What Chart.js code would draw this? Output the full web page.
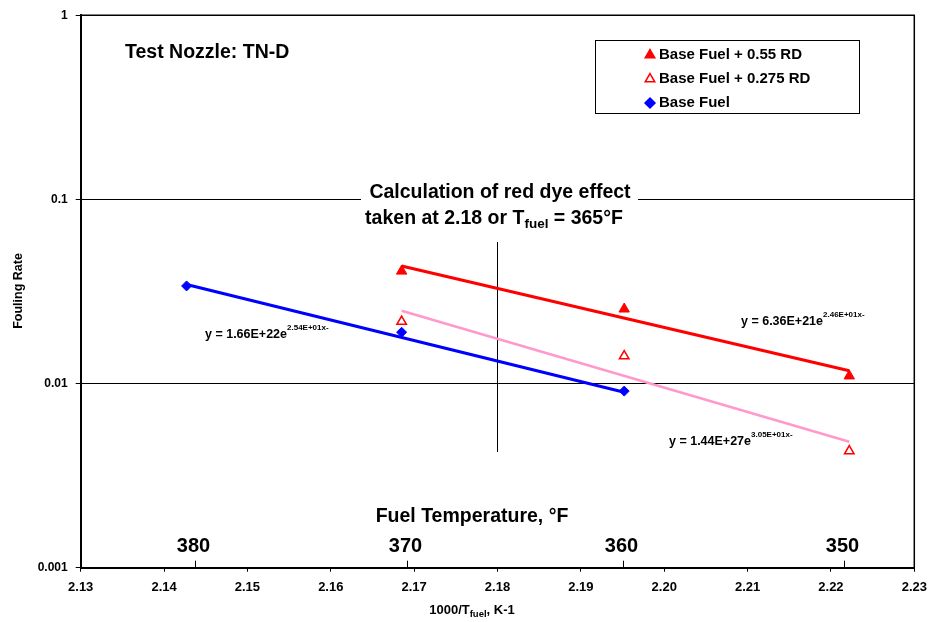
<!DOCTYPE html>
<html>
<head>
<meta charset="utf-8">
<script src="https://cdn.jsdelivr.net/npm/chart.js@4.4.1/dist/chart.umd.min.js"></script>
<style>
html,body{margin:0;padding:0;background:#fff;}
#wrap{width:929px;height:622px;}
</style>
</head>
<body>
<div id="wrap"><canvas id="c" width="929" height="622"></canvas></div>
<script>
// ---- data ----
const xTickValues = [2.13, 2.14, 2.15, 2.16, 2.17, 2.18, 2.19, 2.20, 2.21, 2.22, 2.23];
const yTickValues = [0.001, 0.01, 0.1, 1];
const yTickLabels = ['0.001', '0.01', '0.1', '1'];

const baseFuelX = [2.1427, 2.1685, 2.1952];
const baseFuelY = [0.0339, 0.0190, 0.0091];
const rd055X = [2.1685, 2.1952, 2.2222];
const rd055Y = [0.0408, 0.0254, 0.0110];
const rd0275X = [2.1685, 2.1952, 2.2222];
const rd0275Y = [0.0217, 0.0141, 0.0043];

const baseTrendX = [2.1427, 2.1952];
const baseTrendY = [0.0345, 0.00898];
const rd055TrendX = [2.1685, 2.2222];
const rd055TrendY = [0.0435, 0.01174];
const rd0275TrendX = [2.1685, 2.2222];
const rd0275TrendY = [0.02486, 0.00483];

const dyeLineX = [2.18, 2.18];
const dyeLineY = [0.0587, 0.00425];

const tempTickX = [2.1437, 2.1692, 2.1950, 2.2216];
const tempTickLabels = ['380', '370', '360', '350'];

const seriesNames = ['Base Fuel + 0.55 RD', 'Base Fuel + 0.275 RD', 'Base Fuel'];
const equations = [
  ['y = 1.66E+22e', '2.54E+01x-'],
  ['y = 6.36E+21e', '2.46E+01x-'],
  ['y = 1.44E+27e', '3.05E+01x-']
];

const pts = (xs, ys) => xs.map((x, i) => ({x: x, y: ys[i]}));
const FONT = '"Liberation Sans", Arial, sans-serif';
const RED = '#FF0000', BLUE = '#0000FF', PINK = '#FF99CC';

function drawRich(ctx, parts, x, y, align) {
  let total = 0;
  parts.forEach(p => { ctx.font = p.font; total += ctx.measureText(p.t).width; });
  let cx = align === 'center' ? x - total / 2 : (align === 'right' ? x - total : x);
  ctx.textAlign = 'left';
  ctx.textBaseline = 'alphabetic';
  parts.forEach(p => {
    ctx.font = p.font;
    ctx.fillText(p.t, cx, y + (p.dy || 0));
    cx += ctx.measureText(p.t).width;
  });
}

const extras = {
  id: 'extras',
  afterDatasetsDraw(chart) {
    const ctx = chart.ctx;
    const a = chart.chartArea;
    const xs = chart.scales.x;
    ctx.save();
    // frame top/right
    ctx.strokeStyle = '#000';
    ctx.lineWidth = 1.5;
    ctx.beginPath();
    ctx.moveTo(a.left, a.top); ctx.lineTo(a.right, a.top); ctx.lineTo(a.right, a.bottom);
    ctx.stroke();

    // secondary temperature ticks (upward)
    ctx.lineWidth = 1;
    tempTickX.forEach((v, i) => {
      const px = Math.round(xs.getPixelForValue(v)) + 0.5;
      ctx.beginPath(); ctx.moveTo(px, a.bottom); ctx.lineTo(px, a.bottom - 7); ctx.stroke();
      ctx.fillStyle = '#000';
      ctx.font = 'bold 20px ' + FONT;
      ctx.textAlign = 'center';
      ctx.textBaseline = 'alphabetic';
      ctx.fillText(tempTickLabels[i], px - 2, 552);
    });
    ctx.font = 'bold 19.5px ' + FONT;
    ctx.textAlign = 'center';
    ctx.fillText('Fuel Temperature, \u00B0F', 472, 522);

    // title box
    ctx.fillStyle = '#fff';
    ctx.fillRect(361, 177, 277, 54);
    ctx.fillStyle = '#000';
    ctx.font = 'bold 19.5px ' + FONT;
    ctx.textAlign = 'center';
    ctx.fillText('Calculation of red dye effect', 500, 198);
    drawRich(ctx, [
      {t: 'taken at 2.18 or T', font: 'bold 19.5px ' + FONT},
      {t: 'fuel', font: 'bold 13.5px ' + FONT, dy: 4},
      {t: ' = 365\u00B0F', font: 'bold 19.5px ' + FONT}
    ], 494, 224, 'center');

    // Test nozzle
    ctx.font = 'bold 19.5px ' + FONT;
    ctx.textAlign = 'left';
    ctx.fillText('Test Nozzle: TN-D', 125, 58);

    // equations
    const eqPos = [[205, 338], [741, 325], [669, 445]];
    equations.forEach((e, i) => {
      drawRich(ctx, [
        {t: e[0], font: 'bold 12.5px ' + FONT},
        {t: e[1], font: 'bold 8px ' + FONT, dy: -8}
      ], eqPos[i][0], eqPos[i][1], 'left');
    });

    // legend
    ctx.fillStyle = '#fff';
    ctx.fillRect(595.5, 40.5, 264, 73);
    ctx.strokeStyle = '#000';
    ctx.lineWidth = 1;
    ctx.strokeRect(595.5, 40.5, 264, 73);
    const rowY = [54, 78, 102];
    const styles = [
      {ps: 'triangle', bg: RED, bc: RED, r: 5.5},
      {ps: 'triangle', bg: '#fff', bc: RED, r: 5.5},
      {ps: 'rectRot', bg: BLUE, bc: BLUE, r: 5}
    ];
    styles.forEach((s, i) => {
      ctx.fillStyle = s.bg; ctx.strokeStyle = s.bc; ctx.lineWidth = 1.5;
      Chart.helpers.drawPoint(ctx, {pointStyle: s.ps, radius: s.r, borderWidth: 1.5}, 650, rowY[i] + 1);
      ctx.fillStyle = '#000';
      ctx.font = 'bold 15px ' + FONT;
      ctx.textAlign = 'left';
      ctx.textBaseline = 'middle';
      ctx.fillText(seriesNames[i], 659, rowY[i] + 1);
    });

    // axis titles
    ctx.textBaseline = 'alphabetic';
    ctx.fillStyle = '#000';
    drawRich(ctx, [
      {t: '1000/T', font: 'bold 13px ' + FONT},
      {t: 'fuel', font: 'bold 9.5px ' + FONT, dy: 3},
      {t: ', K-1', font: 'bold 13px ' + FONT}
    ], 472, 614, 'center');
    ctx.save();
    ctx.translate(22, 291);
    ctx.rotate(-Math.PI / 2);
    ctx.font = 'bold 12.5px ' + FONT;
    ctx.textAlign = 'center';
    ctx.fillText('Fouling Rate', 0, 0);
    ctx.restore();
    ctx.restore();
  }
};

new Chart(document.getElementById('c'), {
  type: 'scatter',
  data: {
    datasets: [
      {label: seriesNames[0], data: pts(rd055X, rd055Y), showLine: false, pointStyle: 'triangle',
       pointRadius: 6, backgroundColor: RED, borderColor: RED, pointBorderWidth: 1, order: 1},
      {label: seriesNames[1], data: pts(rd0275X, rd0275Y), showLine: false, pointStyle: 'triangle',
       pointRadius: 5.5, backgroundColor: '#fff', borderColor: RED, pointBorderWidth: 1.5, order: 1},
      {label: seriesNames[2], data: pts(baseFuelX, baseFuelY), showLine: false, pointStyle: 'rectRot',
       pointRadius: 5, backgroundColor: BLUE, borderColor: BLUE, pointBorderWidth: 1, order: 1},
      {label: 'rdTrend', data: pts(rd055TrendX, rd055TrendY), showLine: true, pointRadius: 0,
       borderColor: RED, borderWidth: 3, order: 2},
      {label: 'rd2Trend', data: pts(rd0275TrendX, rd0275TrendY), showLine: true, pointRadius: 0,
       borderColor: PINK, borderWidth: 2.5, order: 2},
      {label: 'baseTrend', data: pts(baseTrendX, baseTrendY), showLine: true, pointRadius: 0,
       borderColor: BLUE, borderWidth: 3, order: 2},
      {label: 'dye', data: pts(dyeLineX, dyeLineY), showLine: true, pointRadius: 0,
       borderColor: '#000', borderWidth: 1, order: 3}
    ]
  },
  options: {
    responsive: false,
    animation: false,
    devicePixelRatio: 1,
    layout: {padding: {left: 0, right: 14.7, top: 15.3, bottom: 0}},
    plugins: {legend: {display: false}, tooltip: {enabled: false}, title: {display: false}},
    scales: {
      x: {
        type: 'linear', min: 2.13, max: 2.23,
        afterFit(s) { s.height = 54.3; s.paddingLeft = 0; s.paddingRight = 0; },
        afterBuildTicks(s) { s.ticks = xTickValues.map(v => ({value: v})); },
        border: {display: true, color: '#000', width: 2},
        grid: {drawOnChartArea: false, drawTicks: true, tickLength: 4, color: '#000'},
        ticks: {padding: 8, color: '#000', font: {family: FONT, size: 13, weight: 'bold'},
          maxRotation: 0, autoSkip: false, callback: v => Number(v).toFixed(2)}
      },
      y: {
        type: 'logarithmic', min: 0.001, max: 1,
        afterFit(s) { s.width = 80.7; s.paddingTop = 0; s.paddingBottom = 0; },
        afterBuildTicks(s) { s.ticks = yTickValues.map(v => ({value: v})); },
        border: {display: true, color: '#000', width: 2},
        grid: {drawOnChartArea: true, drawTicks: true, tickLength: 5, color: '#000', lineWidth: 1},
        ticks: {padding: 8, color: '#000', font: {family: FONT, size: 12, weight: 'bold'},
          autoSkip: false, callback: (v) => { const i = yTickValues.findIndex(t => Math.abs(t - v) / t < 1e-6); return i >= 0 ? yTickLabels[i] : ''; }}
      }
    }
  },
  plugins: [extras]
});
</script>
</body>
</html>
